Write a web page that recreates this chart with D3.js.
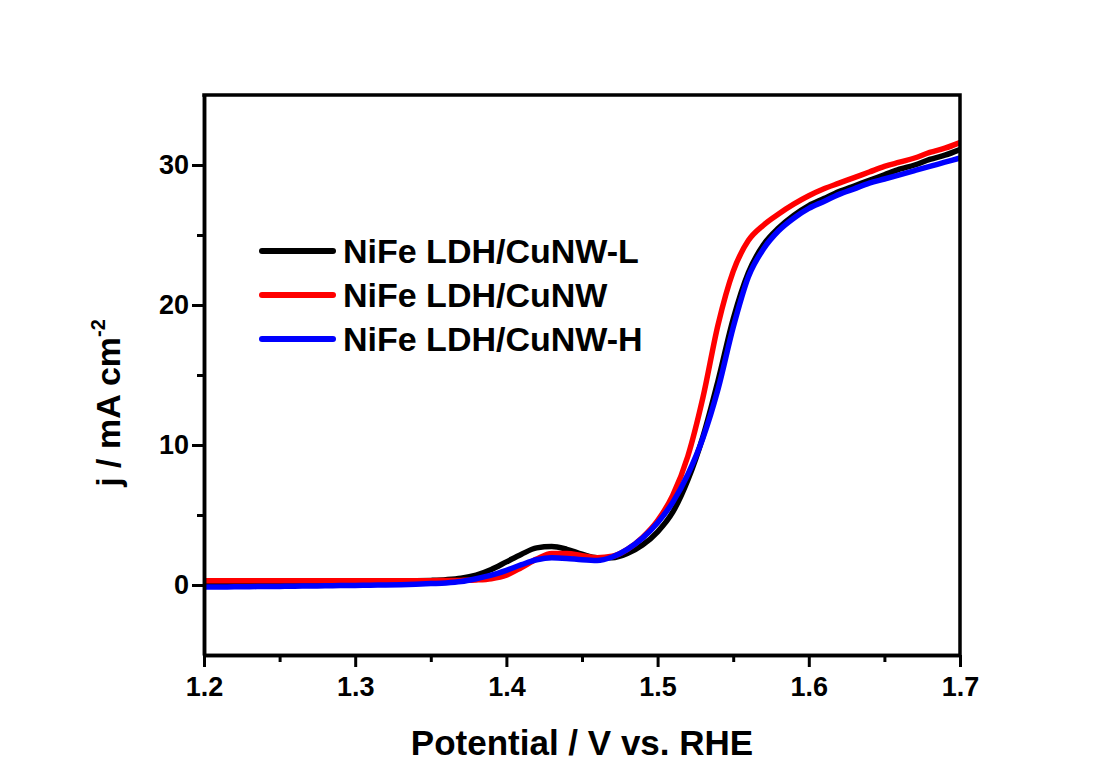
<!DOCTYPE html>
<html>
<head>
<meta charset="utf-8">
<script src="https://cdn.jsdelivr.net/npm/d3@7"></script>
<style>
  body { margin: 0; background: #fff; }
  text { font-family: Arial, 'Liberation Sans', sans-serif; font-weight: bold; fill: #000; }
</style>
</head>
<body>
<div id="chart"></div>
<script>
// potential (V vs. RHE)
const potential = [1.20, 1.21, 1.22, 1.23, 1.24, 1.25, 1.26, 1.27, 1.28, 1.29,
  1.30, 1.31, 1.32, 1.33, 1.34, 1.35, 1.36, 1.37, 1.38, 1.39,
  1.40, 1.41, 1.42, 1.43, 1.44, 1.45, 1.46, 1.47, 1.48, 1.49,
  1.50, 1.51, 1.52, 1.53, 1.54, 1.55, 1.56, 1.57, 1.58, 1.59,
  1.60, 1.61, 1.62, 1.63, 1.64, 1.65, 1.66, 1.67, 1.68, 1.69, 1.70]

// current density (mA cm-2)
const currentL = [0.20, 0.20, 0.20, 0.21, 0.21, 0.22, 0.22, 0.23, 0.23, 0.24,
  0.25, 0.26, 0.27, 0.28, 0.30, 0.33, 0.38, 0.48, 0.70, 1.10,
  1.65, 2.20, 2.65, 2.75, 2.55, 2.20, 1.95, 1.95, 2.25, 2.85,
  3.80, 5.20, 7.50, 10.6, 14.6, 19.0, 22.3, 24.3, 25.5, 26.4,
  27.1, 27.6, 28.1, 28.5, 28.9, 29.3, 29.7, 30.0, 30.4, 30.7, 31.1]

const currentM = [0.30, 0.30, 0.30, 0.30, 0.30, 0.30, 0.30, 0.30, 0.30, 0.30,
  0.30, 0.30, 0.30, 0.30, 0.31, 0.31, 0.32, 0.33, 0.36, 0.45,
  0.70, 1.25, 1.85, 2.25, 2.25, 2.10, 1.95, 2.05, 2.55, 3.40,
  4.60, 6.40, 9.20, 13.4, 18.6, 22.4, 24.6, 25.7, 26.5, 27.2,
  27.8, 28.3, 28.7, 29.1, 29.5, 29.9, 30.2, 30.5, 30.9, 31.2, 31.6]

const currentH = [-0.15, -0.14, -0.13, -0.12, -0.11, -0.10, -0.09, -0.07, -0.06, -0.04,
  -0.03, -0.01, 0.00, 0.02, 0.05, 0.10, 0.15, 0.25, 0.45, 0.70,
  1.05, 1.45, 1.80, 1.95, 1.90, 1.80, 1.75, 2.00, 2.55, 3.35,
  4.45, 5.90, 7.90, 10.5, 14.0, 18.4, 22.0, 24.0, 25.3, 26.2,
  26.9, 27.4, 27.9, 28.3, 28.7, 29.0, 29.3, 29.6, 29.9, 30.2, 30.5]

const seriesNames = ['NiFe LDH/CuNW-L', 'NiFe LDH/CuNW', 'NiFe LDH/CuNW-H']
const seriesColors = ['#000000', '#ff0000', '#0000ff']

const xMajor = [1.2, 1.3, 1.4, 1.5, 1.6, 1.7]
const xMinor = [1.25, 1.35, 1.45, 1.55, 1.65]
const yMajor = [0, 10, 20, 30]
const yMinor = [5, 15, 25]

const chartWidth = 1100
const chartHeight = 776
const margin = { top: 95, right: 140, bottom: 121, left: 204 }
const width = chartWidth - margin.left - margin.right
const height = chartHeight - margin.top - margin.bottom

const svg = d3.select('#chart')
  .append('svg')
    .attr('width', chartWidth)
    .attr('height', chartHeight)
  .append('g')
    .attr('transform', `translate(${margin.left}, ${margin.top})`)

const x = d3.scaleLinear()
  .domain([1.2, 1.7])
  .range([0, width])

const y = d3.scaleLinear()
  .domain([-5, 35])
  .range([height, 0])

const line = d3.line()
  .x(d => x(d[0]))
  .y(d => y(d[1]))
  .curve(d3.curveMonotoneX)

// curves
const allSeries = [currentL, currentM, currentH]
allSeries.forEach((values, i) => {
  svg
    .append('path')
      .attr('d', line(potential.map((p, k) => [p, values[k]])))
      .attr('fill', 'none')
      .attr('stroke', seriesColors[i])
      .attr('stroke-width', 5.5)
      .attr('stroke-linejoin', 'round')
})

// axes
const styleAxis = g => {
  g.select('.domain').attr('stroke-width', 3.5)
  g.selectAll('.tick line').attr('stroke-width', 3)
  g.selectAll('text').style('font-size', '27px')
}

svg.append('g')
  .attr('transform', `translate(0, ${height})`)
  .call(d3.axisBottom(x).tickValues(xMinor).tickSize(7).tickSizeOuter(0).tickFormat(''))
  .call(styleAxis)

svg.append('g')
  .attr('transform', `translate(0, ${height})`)
  .call(d3.axisBottom(x).tickValues(xMajor).tickSize(12).tickSizeOuter(0).tickPadding(10).tickFormat(d3.format('.1f')))
  .call(styleAxis)

svg.append('g')
  .call(d3.axisLeft(y).tickValues(yMinor).tickSize(7).tickSizeOuter(0).tickFormat(''))
  .call(styleAxis)

svg.append('g')
  .call(d3.axisLeft(y).tickValues(yMajor).tickSize(12).tickSizeOuter(0).tickPadding(3).tickFormat(d3.format('d')))
  .call(styleAxis)

// top and right frame
svg.append('path')
  .attr('d', `M${-1.75},0H${width}V${height}`)
  .attr('fill', 'none')
  .attr('stroke', '#000')
  .attr('stroke-width', 3.5)

// axis titles
svg.append('text')
  .attr('x', width / 2)
  .attr('y', height + 100)
  .attr('text-anchor', 'middle')
  .style('font-size', '35px')
  .text('Potential / V vs. RHE')

const yTitle = svg.append('text')
  .attr('transform', `translate(${-84}, ${y(13)}) rotate(-90)`)
  .attr('text-anchor', 'middle')
  .style('font-size', '34px')
yTitle.append('tspan').text('j / mA cm')
yTitle.append('tspan')
  .attr('dy', -15)
  .style('font-size', '20px')
  .text('-2')

// legend
const legend = svg.append('g')
  .attr('transform', 'translate(58, 156)')

seriesNames.forEach((name, i) => {
  const row = legend.append('g')
    .attr('transform', `translate(0, ${i * 44})`)
  row.append('line')
    .attr('x1', 0)
    .attr('x2', 71)
    .attr('stroke', seriesColors[i])
    .attr('stroke-width', 6)
    .attr('stroke-linecap', 'round')
  row.append('text')
    .attr('x', 81)
    .attr('y', 12)
    .style('font-size', '34px')
    .text(name)
})
</script>
</body>
</html>
